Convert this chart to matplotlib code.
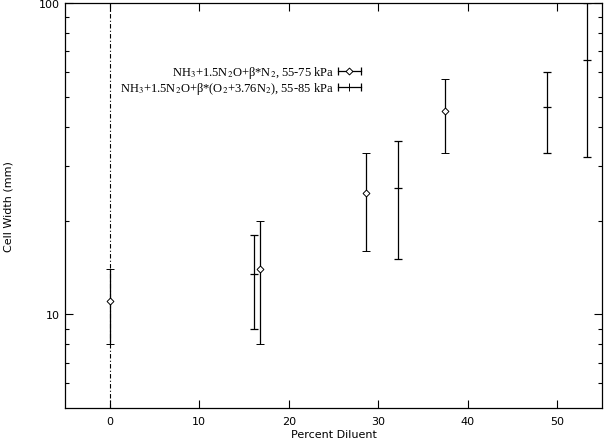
"""
cell width vs. percent diluent, NH3/N2O mixtures
"""
import matplotlib
matplotlib.use('Agg')
import matplotlib.pyplot as plt
from matplotlib.lines import Line2D
from matplotlib.legend_handler import HandlerBase
from matplotlib.ticker import FixedLocator, NullFormatter, FixedFormatter


# === N2 diluted, 55-75 kPa === #
n2_diluent = [0.0, 16.8, 28.6, 37.5]
n2_width = [11.0, 14.0, 24.5, 45.0]
n2_low = [8.0, 8.0, 16.0, 33.0]
n2_high = [14.0, 20.0, 33.0, 57.0]

# === air diluted, 55-85 kPa === #
air_diluent = [16.1, 32.2, 48.8, 53.3]
air_width = [13.5, 25.5, 46.5, 65.5]
air_low = [9.0, 15.0, 33.0, 32.0]
air_high = [18.0, 36.0, 60.0, 100.0]

legend_labels = ['NH$_3$+1.5N$_2$O+β*N$_2$, 55-75 kPa',
                 'NH$_3$+1.5N$_2$O+β*(O$_2$+3.76N$_2$), 55-85 kPa']


# horizontal error bar sample, the way gnuplot draws its key
class HBarHandler(HandlerBase):
    def __init__(self, diamond):
        super().__init__()
        self.diamond = diamond

    def create_artists(self, legend, orig_handle, xdescent, ydescent,
                       width, height, fontsize, trans):
        y = height / 2 - ydescent
        x0, x1 = -xdescent, width - xdescent
        bar = Line2D([x0, x1], [y, y], color='k', lw=0.9)
        caps = Line2D([x0, x1], [y, y], ls='none', marker='|', ms=6,
                      mew=0.9, color='k')
        mid = Line2D([(x0 + x1) / 2], [y], ls='none',
                     marker='D' if self.diamond else '|',
                     ms=3.5 if self.diamond else 6, mew=0.7,
                     mfc='white', mec='k')
        arts = [bar, caps, mid]
        for a in arts:
            a.set_transform(trans)
        return arts


def err(vals, low, high):
    return [[v - l for v, l in zip(vals, low)], [h - v for v, h in zip(vals, high)]]


plt.rcParams['font.family'] = ['DejaVu Sans']
plt.rcParams['mathtext.fontset'] = 'stix'

fig = plt.figure(figsize=(6.04, 4.39), dpi=100)
ax = fig.add_axes([0.1076, 0.0683, 0.8891, 0.9226])

ax.axvline(0, color='k', lw=0.8, ls=(0, (4, 2, 1, 2)))

h1 = ax.errorbar(n2_diluent, n2_width, yerr=err(n2_width, n2_low, n2_high),
                 fmt='D', ms=3.5, mfc='white', mec='k', mew=0.7,
                 ecolor='k', elinewidth=0.9, capsize=3, capthick=0.9)
h2 = ax.errorbar(air_diluent, air_width, yerr=err(air_width, air_low, air_high),
                 fmt='_', ms=6, mew=0.9, color='k',
                 ecolor='k', elinewidth=0.9, capsize=3, capthick=0.9)

ax.set_yscale('log')
ax.set_xlim(-5, 55)
ax.set_ylim(5, 100)

ax.set_xticks([0, 10, 20, 30, 40, 50])
ax.yaxis.set_major_locator(FixedLocator([10, 100]))
ax.yaxis.set_major_formatter(FixedFormatter(['10', '100']))
ax.yaxis.set_minor_locator(FixedLocator([6, 7, 8, 9, 20, 30, 40, 50, 60, 70, 80, 90]))
ax.yaxis.set_minor_formatter(NullFormatter())
ax.tick_params(which='both', direction='in', top=True, right=True,
               labelsize=8, width=0.8)
ax.tick_params(which='major', length=6)
ax.tick_params(which='minor', length=3)
ax.tick_params(axis='x', pad=6)
for s in ax.spines.values():
    s.set_linewidth(0.9)

ax.set_xlabel('Percent Diluent', fontsize=8, labelpad=2)
ax.set_ylabel('Cell Width (mm)', fontsize=8)
ax.yaxis.set_label_coords(-0.095, 0.5)

leg = ax.legend([h1, h2], legend_labels, loc='upper right',
                bbox_to_anchor=(0.567, 0.87), frameon=False,
                markerfirst=False, handlelength=1.8, handletextpad=0.35,
                labelspacing=0.0, borderpad=0.2,
                handler_map={h1: HBarHandler(True), h2: HBarHandler(False)},
                prop={'family': 'Liberation Serif', 'size': 9})

fig.savefig('out.png', dpi=100)
